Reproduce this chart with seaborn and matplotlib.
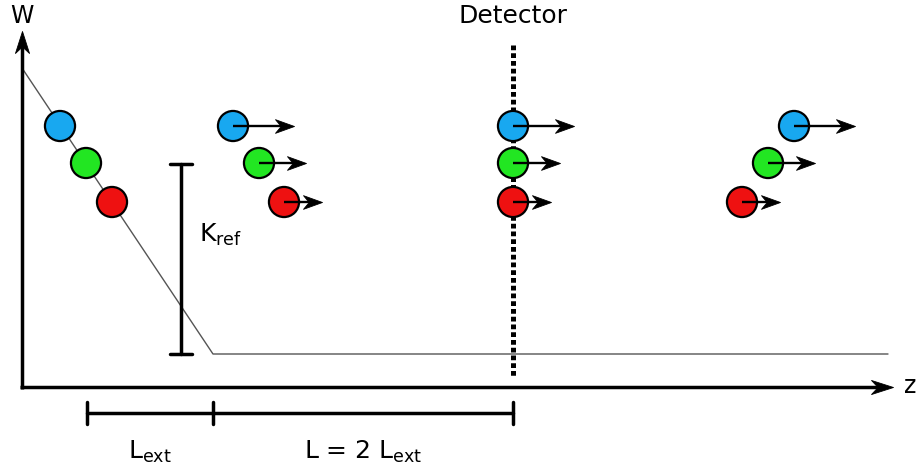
import matplotlib
matplotlib.use("Agg")
import matplotlib.pyplot as plt
from matplotlib.path import Path
from matplotlib.markers import MarkerStyle
import seaborn as sns
import pandas as pd
import numpy as np

sns.set_theme(style="white")
plt.rcParams["font.family"] = ["DejaVu Sans"]
plt.rcParams["mathtext.fontset"] = "dejavusans"
plt.rcParams["text.color"] = "black"

# Drawing units: horizontal = z, vertical = W (screen-like, W grows upward on the page)
# Reference profile W(z): linear ramp then flat plateau
profile_z = [22, 213, 888]
profile_w = [68, 354, 354]

# Particles (blue, green, red) at four snapshots along z
colors = ["#18a8f0", "#22e622", "#ee1111"]
particle_w = [126, 163, 202]
snapshot_z = [
    [60, 86, 112],      # at injection, sitting on the ramp
    [233, 259, 284],    # after leaving the ramp
    [513, 513, 513],    # arriving together at the detector
    [794, 768, 742],    # past the detector
]
velocity = [61, 47, 38]  # arrow lengths (blue faster than green faster than red)

# Geometry of axes and annotations
z_axis = (22, 893, 387)
w_axis = (22, 387, 31)
detector_z, detector_top, detector_bottom = 513, 45, 378
kref_z, kref_top, kref_bottom = 181, 164, 354
span_y = 413
span_marks = [87, 213, 513]

fig = plt.figure(figsize=(9.17, 4.68), dpi=100)
ax = fig.add_axes([0, 0, 1, 1])
ax.set_xlim(0, 917)
ax.set_ylim(468, 0)
ax.axis("off")


def head_marker(angle_deg, w=0.4, notch=0.7):
    """Swept-back arrow head with its tip at the origin."""
    verts = np.array([(0, 0), (-1.0, w), (-notch, 0), (-1.0, -w), (0, 0)])
    a = np.deg2rad(angle_deg)
    rot = np.array([[np.cos(a), -np.sin(a)], [np.sin(a), np.cos(a)]])
    verts = verts @ rot.T
    codes = [Path.MOVETO, Path.LINETO, Path.LINETO, Path.LINETO, Path.CLOSEPOLY]
    return MarkerStyle(Path(verts, codes))


def arrow(x0, y0, x1, y1, lw, head_px, zorder, w=0.4):
    # shaft stops inside the head so the line end is hidden
    d = np.hypot(x1 - x0, y1 - y0)
    ux, uy = (x1 - x0) / d, (y1 - y0) / d
    back = head_px * 0.55
    ax.plot([x0, x1 - ux * back], [y0, y1 - uy * back], color="black", lw=lw,
            solid_capstyle="butt", zorder=zorder)
    # screen angle (y axis is inverted)
    ang = np.degrees(np.arctan2(-(y1 - y0), x1 - x0))
    ms = 2 * head_px * 0.72  # marker size in points
    ax.plot([x1], [y1], marker=head_marker(ang, w), ms=ms, color="black",
            mec="black", mew=0.6, lw=0, zorder=zorder)


# Profile line
sns.lineplot(x=profile_z, y=profile_w, ax=ax, color="#555555", lw=1.0,
             sort=False, estimator=None, zorder=2)

# Axes with arrow heads
arrow(z_axis[0] - 1.7, z_axis[2], z_axis[1], z_axis[2], 2.5, 22, 3, w=0.32)
arrow(w_axis[0], w_axis[1] + 1.7, w_axis[0], w_axis[2], 2.5, 22, 3, w=0.32)
ax.text(22, 23, "W", fontsize=17, ha="center", va="baseline")
ax.text(910, 393, "z", fontsize=17, ha="center", va="baseline")

# Detector
ax.plot([detector_z, detector_z], [detector_top, detector_bottom], color="black",
        lw=3.6, linestyle=(0, (0.95, 0.6)), solid_capstyle="butt",
        dash_capstyle="butt", zorder=3)
ax.text(detector_z, 23, "Detector", fontsize=18, ha="center", va="baseline")

# K_ref bracket
cap = 11
ax.plot([kref_z, kref_z], [kref_top, kref_bottom], color="black", lw=2.5, zorder=3)
for yy in (kref_top, kref_bottom):
    ax.plot([kref_z - cap, kref_z + cap], [yy, yy], color="black", lw=2.5, zorder=3)
ax.text(199, 242, r"K$_{\mathrm{ref}}$", fontsize=18, ha="left", va="baseline")

# Length spans below the z axis
ax.plot([span_marks[0], span_marks[-1]], [span_y, span_y], color="black", lw=2.5)
for zz in span_marks:
    ax.plot([zz, zz], [span_y - 11, span_y + 11], color="black", lw=2.5)
ax.text(150, 459, r"L$_{\mathrm{ext}}$", fontsize=18, ha="center", va="baseline")
ax.text(363, 459, r"L = 2 L$_{\mathrm{ext}}$", fontsize=18, ha="center", va="baseline")

# Particles
rows = []
for k, zs in enumerate(snapshot_z):
    for i in range(3):
        rows.append(dict(snap=k, z=zs[i], w=particle_w[i], c=colors[i]))
df = pd.DataFrame(rows)
sns.scatterplot(data=df, x="z", y="w", hue="c", palette={c: c for c in colors},
                s=470, edgecolor="black", linewidth=1.6, legend=False, ax=ax,
                zorder=4)

# Velocity arrows for the moving snapshots
for k, zs in enumerate(snapshot_z):
    if k == 0:
        continue
    for i in range(3):
        arrow(zs[i], particle_w[i], zs[i] + velocity[i], particle_w[i], 1.7, 19, 5,
              w=0.36)

fig.savefig("out.png", dpi=100)
